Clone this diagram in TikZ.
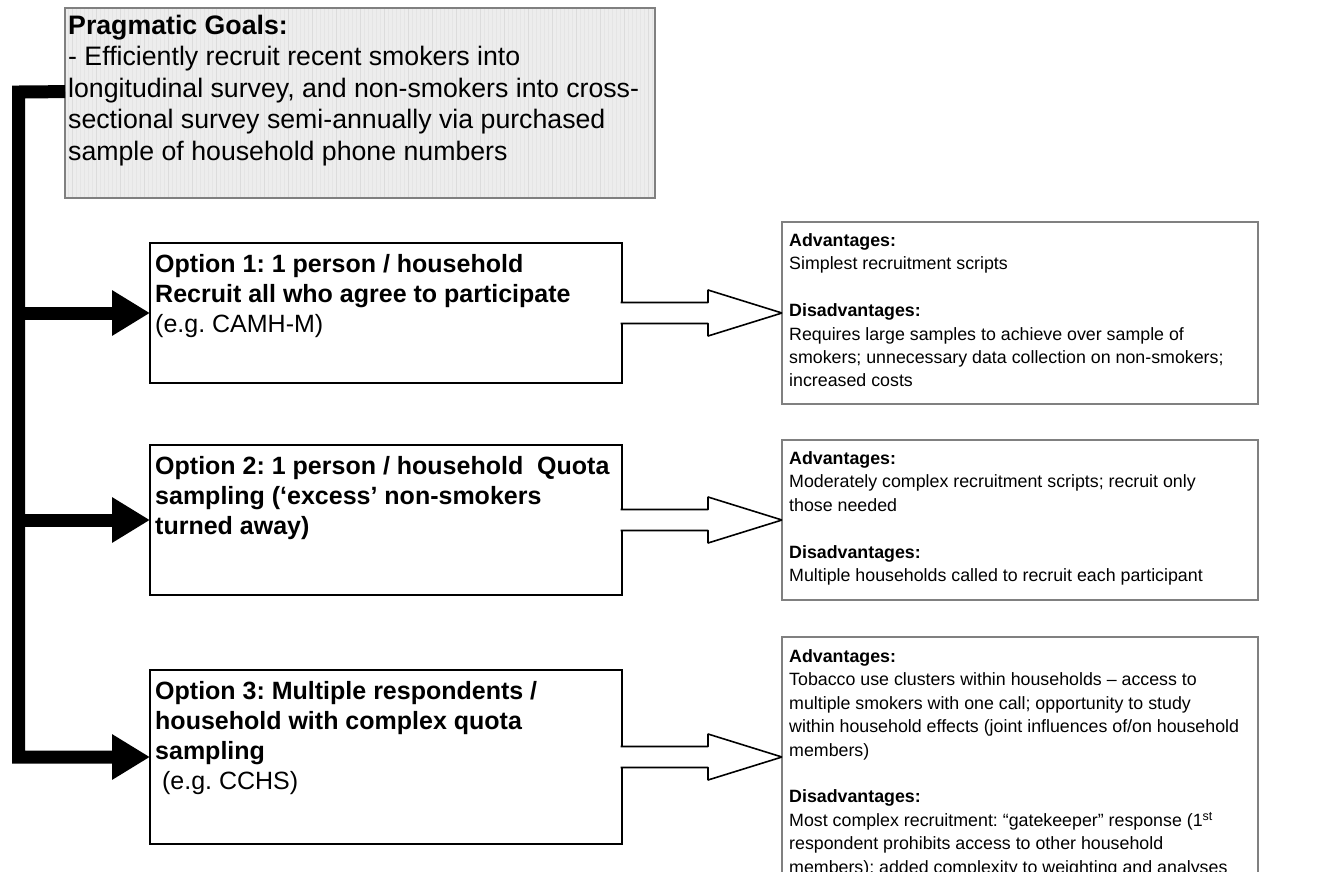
\documentclass[tikz,border=0pt]{standalone}
\usepackage{fontspec}
\setmainfont{Liberation Sans}
\usetikzlibrary{arrows.meta,calc}
\definecolor{boxgray}{RGB}{128,128,128}
\definecolor{goalfill}{RGB}{237,237,237}
\definecolor{gridline}{RGB}{229,229,229}
\definecolor{gridmajor}{RGB}{220,220,220}
\frenchspacing

\begin{document}
\begin{tikzpicture}[x=1pt,y=-1pt,
		goalbox/.style={draw=boxgray,line width=1.5pt,inner sep=0pt,outer sep=0pt,anchor=north west},
		optbox/.style={draw=black,line width=1.6pt,inner sep=0pt,outer sep=0pt,anchor=north west,minimum width=472},
		advbox/.style={draw=boxgray,line width=1.5pt,inner sep=0pt,outer sep=0pt,anchor=north west,minimum width=476},
		goaltext/.style={anchor=north west,inner sep=0pt,align=left,font=\fontsize{26.7}{31.5}\selectfont},
		opttext/.style={anchor=north west,inner sep=0pt,align=left,font=\fontsize{25}{30}\selectfont},
		advtext/.style={anchor=north west,inner sep=0pt,align=left,font=\fontsize{17.8}{23.4}\selectfont},
		trunk/.style={line width=13pt,line join=miter,-{Triangle[length=38pt,width=43pt]}},
		hollow/.style={draw=black,fill=white,line width=1.6pt,line join=bevel}]

		\useasboundingbox ( 0, 0 ) rectangle ( 1317, 871 );
		\clip ( 0, 0 ) rectangle ( 1317, 871 );

		% goals
		\fill [goalfill] ( 65, 8 ) rectangle ( 655, 198 );
		\begin{scope}
			\clip ( 65, 8 ) rectangle ( 655, 198 );
			\draw [gridline,line width=0.25pt,step=4] ( 65, 8 ) grid ( 655, 198 );
			\draw [gridmajor,line width=0.4pt,step=24] ( 65, 8 ) grid ( 655, 198 );
		\end{scope}
		\node [goalbox,minimum width=590,minimum height=190] (goals) at ( 65, 8 ) {};
		\node [goaltext] (goalstext) at ( 68, 12 ) {\strut\textbf{Pragmatic Goals:}\\- Efficiently recruit recent smokers into\\longitudinal survey, and non-smokers into cross-\\sectional survey semi-annually via purchased\\sample of household phone numbers};

		% option 1
		\node [optbox,minimum height=140] (opt1) at ( 150, 243 ) {};
		\node [opttext] (opt1text) at ( 155, 251 ) {\strut\textbf{Option 1: 1 person / household}\\\textbf{Recruit all who agree to participate}\\(e.g. CAMH-M)};

		% option 2
		\node [optbox,minimum height=150] (opt2) at ( 150, 445 ) {};
		\node [opttext] (opt2text) at ( 155, 453 ) {\strut\textbf{Option 2: 1 person / household\ \ Quota}\\\textbf{sampling (‘excess’ non-smokers}\\\textbf{turned away)}};

		% option 3
		\node [optbox,minimum height=174] (opt3) at ( 150, 670 ) {};
		\node [opttext] (opt3text) at ( 155, 678 ) {\strut\textbf{Option 3: Multiple respondents /}\\\textbf{household with complex quota}\\\textbf{sampling}\\\mbox{}\ (e.g. CCHS)};

		% advantages 1
		\node [advbox,minimum height=182] (adv1) at ( 782, 222 ) {};
		\node [advtext] (adv1text) at ( 789, 230 ) {\strut\textbf{Advantages:}\\Simplest recruitment scripts\\[23.4pt]\textbf{Disadvantages:}\\Requires large samples to achieve over sample of\\smokers; unnecessary data collection on non-smokers;\\increased costs};

		% advantages 2
		\node [advbox,minimum height=160] (adv2) at ( 782, 440 ) {};
		\node [advtext] (adv2text) at ( 789, 448 ) {\strut\textbf{Advantages:}\\Moderately complex recruitment scripts; recruit only\\those needed\\[23.4pt]\textbf{Disadvantages:}\\Multiple households called to recruit each participant};

		% advantages 3
		\node [advbox,minimum height=240] (adv3) at ( 782, 637 ) {};
		\node [advtext] (adv3text) at ( 789, 646 ) {\strut\textbf{Advantages:}\\Tobacco use clusters within households – access to\\multiple smokers with one call; opportunity to study\\within household effects (joint influences of/on household\\members)\\[23.4pt]\textbf{Disadvantages:}\\Most complex recruitment: “gatekeeper” response (1\textsuperscript{st}\\respondent prohibits access to other household\\members); added complexity to weighting and analyses};

		% black feed lines
		\coordinate (spine) at ( 18.5, 92 );
		\draw [trunk] ($(goals.north west)!0.44!(goals.south west)$) -- (spine) |- (opt3.west);
		\draw [trunk] (spine |- opt1.west) -- (opt1.west);
		\draw [trunk] (spine |- opt2.west) -- (opt2.west);

		% hollow arrows
		\draw [hollow] ($(opt1.east)+(-1.5,-10.5)$) -- ($(adv1.west)+(-74,-10.5)$) -- ($(adv1.west)+(-74,-23)$) -- (adv1.west) -- ($(adv1.west)+(-74,23)$) -- ($(adv1.west)+(-74,10.5)$) -- ($(opt1.east)+(-1.5,10.5)$);
		\draw [hollow] ($(opt2.east)+(-1.5,-10.5)$) -- ($(adv2.west)+(-74,-10.5)$) -- ($(adv2.west)+(-74,-23)$) -- (adv2.west) -- ($(adv2.west)+(-74,23)$) -- ($(adv2.west)+(-74,10.5)$) -- ($(opt2.east)+(-1.5,10.5)$);
		\draw [hollow] ($(opt3.east)+(-1.5,-10.5)$) -- ($(adv3.west)+(-74,-10.5)$) -- ($(adv3.west)+(-74,-23)$) -- (adv3.west) -- ($(adv3.west)+(-74,23)$) -- ($(adv3.west)+(-74,10.5)$) -- ($(opt3.east)+(-1.5,10.5)$);
	\end{tikzpicture}
\end{document}
